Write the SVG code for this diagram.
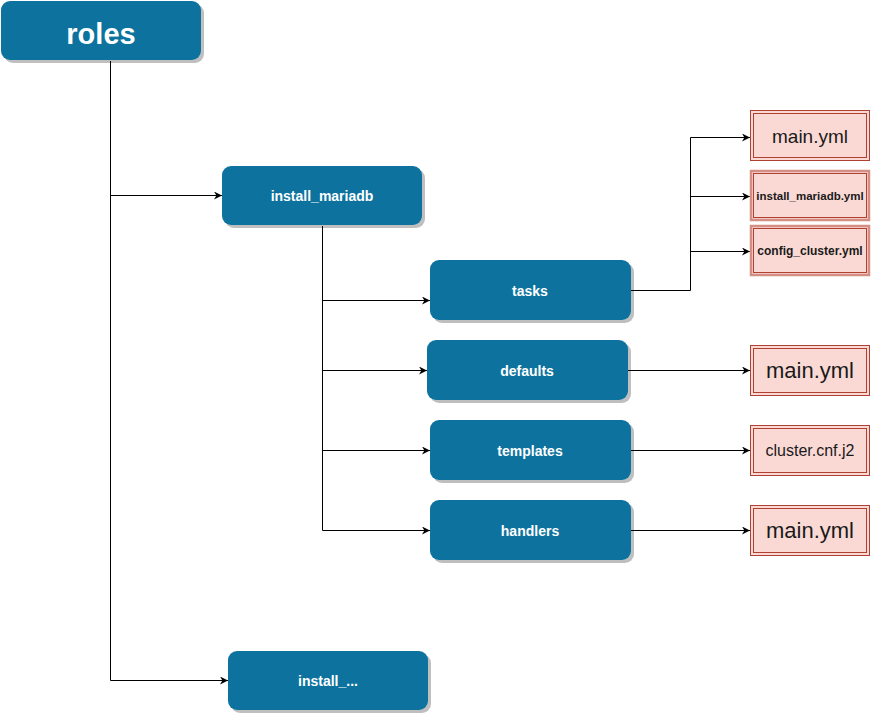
<svg xmlns="http://www.w3.org/2000/svg" width="872" height="716" viewBox="0 0 872 716">
<defs>
<marker id="arr" viewBox="0 0 10 10" refX="10" refY="5" markerWidth="8" markerHeight="8" markerUnits="userSpaceOnUse" orient="auto">
<path d="M0,0 L10,5 L0,10 L3,5 Z" fill="#000"/>
</marker>
<filter id="sh" x="-10%" y="-10%" width="130%" height="140%">
<feOffset dx="3" dy="3" in="SourceAlpha" result="o"/>
<feFlood flood-color="#000" flood-opacity="0.25"/>
<feComposite in2="o" operator="in" result="s"/>
<feMerge><feMergeNode in="s"/><feMergeNode in="SourceGraphic"/></feMerge>
</filter>
</defs>
<style>
.b{fill:#10739E;filter:url(#sh)}
.bt{font-family:"Liberation Sans",Arial,sans-serif;font-weight:bold;fill:#fff;text-anchor:middle;font-size:14px}
.f{fill:#FAD9D5;stroke:#AE4132;stroke-width:1}
.fi{fill:none;stroke:#AE4132;stroke-width:1}
.f2{fill:#FAD9D5;stroke:#D58E84;stroke-width:2.5}
.ft{font-family:"Liberation Sans",Arial,sans-serif;fill:#1a1a1a;text-anchor:middle}
.c{fill:none;stroke:#000;stroke-width:1}
</style>
<rect width="872" height="716" fill="#fff"/>
<g id="connectors">
<path class="c" d="M110.5,61 V680.5"/>
<path class="c" d="M110.5,195.5 H222" marker-end="url(#arr)"/>
<path class="c" d="M110.5,680.5 H228" marker-end="url(#arr)"/>
<path class="c" d="M322.5,226 V530.5"/>
<path class="c" d="M322.5,300.5 H430" marker-end="url(#arr)"/>
<path class="c" d="M322.5,370.5 H427" marker-end="url(#arr)"/>
<path class="c" d="M322.5,450.5 H430" marker-end="url(#arr)"/>
<path class="c" d="M322.5,530.5 H430" marker-end="url(#arr)"/>
<path class="c" d="M631,290.5 H690.5 V137.5 H750" marker-end="url(#arr)"/>
<path class="c" d="M690.5,196.5 H750" marker-end="url(#arr)"/>
<path class="c" d="M690.5,251.5 H750" marker-end="url(#arr)"/>
<path class="c" d="M628,370.5 H750" marker-end="url(#arr)"/>
<path class="c" d="M631,450.5 H750" marker-end="url(#arr)"/>
<path class="c" d="M631,530.5 H750" marker-end="url(#arr)"/>
</g>
<g id="roles"><rect class="b" x="1" y="1" width="200" height="59" rx="9"/><text class="bt" x="101" y="44" style="font-size:29px">roles</text></g>
<g id="install_mariadb"><rect class="b" x="222" y="166" width="200" height="59" rx="9"/><text class="bt" x="322" y="201">install_mariadb</text></g>
<g id="tasks"><rect class="b" x="430" y="260" width="201" height="60" rx="9"/><text class="bt" x="530" y="296">tasks</text></g>
<g id="defaults"><rect class="b" x="427" y="340" width="201" height="60" rx="9"/><text class="bt" x="527" y="376">defaults</text></g>
<g id="templates"><rect class="b" x="430" y="420" width="201" height="60" rx="9"/><text class="bt" x="530" y="456">templates</text></g>
<g id="handlers"><rect class="b" x="430" y="500" width="201" height="60" rx="9"/><text class="bt" x="530" y="536">handlers</text></g>
<g id="install_other"><rect class="b" x="228" y="651" width="200" height="59" rx="9"/><text class="bt" x="328" y="686">install_...</text></g>
<g id="tasks_main"><rect class="f" x="750.5" y="110.5" width="119" height="50"/><rect class="fi" x="753.5" y="113.5" width="113" height="44"/><text class="ft" x="810" y="143" font-size="19">main.yml</text></g>
<g id="install_mariadb_yml"><rect class="f2" x="751" y="171" width="118" height="49"/><rect class="fi" x="753.5" y="173.5" width="113" height="44"/><text class="ft" x="810" y="200" font-size="11.5" font-weight="bold">install_mariadb.yml</text></g>
<g id="config_cluster_yml"><rect class="f2" x="751" y="226" width="118" height="49"/><rect class="fi" x="753.5" y="228.5" width="113" height="44"/><text class="ft" x="810" y="255" font-size="12" font-weight="bold">config_cluster.yml</text></g>
<g id="defaults_main"><rect class="f" x="750.5" y="345.5" width="119" height="50"/><rect class="fi" x="753.5" y="348.5" width="113" height="44"/><text class="ft" x="810" y="378" font-size="22">main.yml</text></g>
<g id="cluster_cnf"><rect class="f" x="750.5" y="425.5" width="119" height="50"/><rect class="fi" x="753.5" y="428.5" width="113" height="44"/><text class="ft" x="810" y="456" font-size="16">cluster.cnf.j2</text></g>
<g id="handlers_main"><rect class="f" x="750.5" y="505.5" width="119" height="50"/><rect class="fi" x="753.5" y="508.5" width="113" height="44"/><text class="ft" x="810" y="538" font-size="22">main.yml</text></g>
</svg>
